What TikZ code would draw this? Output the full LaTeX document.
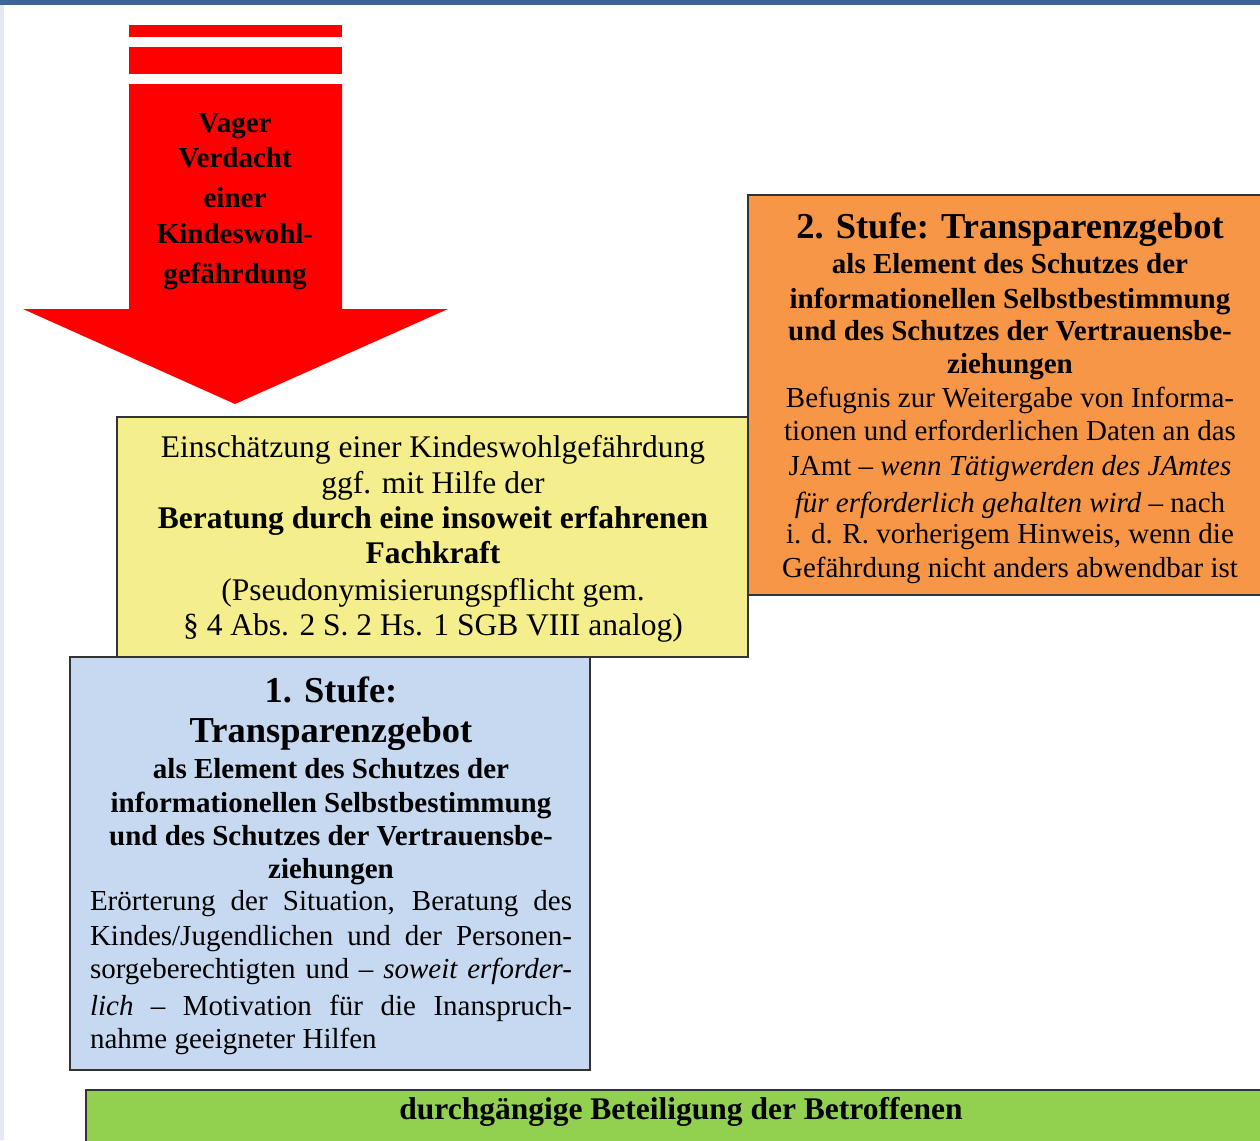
\documentclass[tikz,border=0pt]{standalone}
\usepackage{fontspec}
\setmainfont{Liberation Serif}
\definecolor{topblue}{RGB}{60,100,148}
\definecolor{edgeblue}{RGB}{228,232,245}
\definecolor{yellowbox}{RGB}{244,238,140}
\definecolor{orangebox}{RGB}{247,150,70}
\definecolor{bluebox}{RGB}{198,217,240}
\definecolor{greenbox}{RGB}{146,208,80}
\definecolor{arrowred}{RGB}{255,0,0}
\newcommand\ynorm{\fontsize{31.5}{36}\selectfont}
\newcommand\ybf{\fontsize{31.5}{36}\selectfont\bfseries}
\newcommand\onorm{\fontsize{29}{35}\selectfont}
\newcommand\obf{\fontsize{29}{35}\selectfont\bfseries}
\newcommand\ohead{\fontsize{36.5}{40}\selectfont\bfseries}
\newcommand\jline[1]{\makebox[482pt][s]{#1}}
\begin{document}
\begin{tikzpicture}[x=1pt,y=-1pt,
  ln/.style={anchor=base, inner sep=0pt, outer sep=0pt},
  lnw/.style={anchor=base west, inner sep=0pt, outer sep=0pt},
  box/.style={draw=black!80, line width=1.6pt}]
\clip (0,0) rectangle (1260,1140);
\fill[white] (0,0) rectangle (1260,1140);
\fill[topblue] (0,0) rectangle (1260,5);
\fill[edgeblue] (0,5) rectangle (4,1140);

% red arrow
\fill[arrowred] (129,25) rectangle (342,37);
\fill[arrowred] (129,47) rectangle (342,74);
\fill[arrowred] (129,84) -- (342,84) -- (342,309) -- (448,309) -- (235,404)
  -- (23,309) -- (129,309) -- cycle;
\node[ln, font=\obf] (a1) at (235,132) {Vager};
\node[ln, font=\obf] (a2) at (235,167) {Verdacht};
\node[ln, font=\obf] (a3) at (235,207) {einer};
\node[ln, font=\obf] (a4) at (235,243) {Kindeswohl-};
\node[ln, font=\obf] (a5) at (235,283) {gefährdung};

% yellow box
\draw[box, fill=yellowbox] (117,417) rectangle (748,657);
\node[ln, font=\ynorm] (y1) at (433,457) {Einschätzung einer Kindeswohlgefährdung};
\node[ln, font=\ynorm] (y2) at (433,493) {ggf. mit Hilfe der};
\node[ln, font=\ybf] (y3) at (433,528) {Beratung durch eine insoweit erfahrenen};
\node[ln, font=\ybf] (y4) at (433,563) {Fachkraft};
\node[ln, font=\ynorm] (y5) at (433,600) {(Pseudonymisierungspflicht gem.};
\node[ln, font=\ynorm] (y6) at (433,635) {§ 4 Abs. 2 S. 2 Hs. 1 SGB VIII analog)};

% orange box
\draw[box, fill=orangebox] (748,195) rectangle (1270,595);
\node[ln, font=\ohead] (o1) at (1010,238) {2. Stufe: Transparenzgebot};
\node[ln, font=\obf] (o2) at (1010,273) {als Element des Schutzes der};
\node[ln, font=\obf] (o3) at (1010,308) {informationellen Selbstbestimmung};
\node[ln, font=\obf] (o4) at (1010,340) {und des Schutzes der Vertrauensbe-};
\node[ln, font=\obf] (o5) at (1010,373) {ziehungen};
\node[ln, font=\onorm] (o6) at (1010,407) {Befugnis zur Weitergabe von Informa-};
\node[ln, font=\onorm] (o7) at (1010,440) {tionen und erforderlichen Daten an das};
\node[ln, font=\onorm] (o8) at (1010,475) {JAmt \textendash{} \textit{wenn Tätigwerden des JAmtes}};
\node[ln, font=\onorm] (o9) at (1010,512) {\textit{für erforderlich gehalten wird} \textendash{} nach};
\node[ln, font=\onorm] (o10) at (1010,543) {i. d. R. vorherigem Hinweis, wenn die};
\node[ln, font=\onorm] (o11) at (1010,577) {Gefährdung nicht anders abwendbar ist};

% blue box
\draw[box, fill=bluebox] (70,657) rectangle (590,1070);
\node[ln, font=\ohead] (b1) at (331,702) {1. Stufe:};
\node[ln, font=\ohead] (b2) at (331,742) {Transparenzgebot};
\node[ln, font=\obf] (b3) at (331,778) {als Element des Schutzes der};
\node[ln, font=\obf] (b4) at (331,812) {informationellen Selbstbestimmung};
\node[ln, font=\obf] (b5) at (331,845) {und des Schutzes der Vertrauensbe-};
\node[ln, font=\obf] (b6) at (331,878) {ziehungen};
\node[lnw, font=\onorm] (b7) at (90,910) {\jline{Erörterung der Situation, Beratung des}};
\node[lnw, font=\onorm] (b8) at (90,945) {\jline{Kindes/Jugendlichen und der Personen-}};
\node[lnw, font=\onorm] (b9) at (90,978) {\jline{sorgeberechtigten und \textendash{} \textit{soweit erforder-}}};
\node[lnw, font=\onorm] (b10) at (90,1015) {\jline{\textit{lich} \textendash{} Motivation für die Inanspruch-}};
\node[lnw, font=\onorm] (b11) at (90,1048) {nahme geeigneter Hilfen};

% green bar
\draw[box, fill=greenbox] (86,1090) rectangle (1270,1150);
\node[ln, font=\ybf] (g1) at (681,1119) {durchgängige Beteiligung der Betroffenen};
\end{tikzpicture}
\end{document}
